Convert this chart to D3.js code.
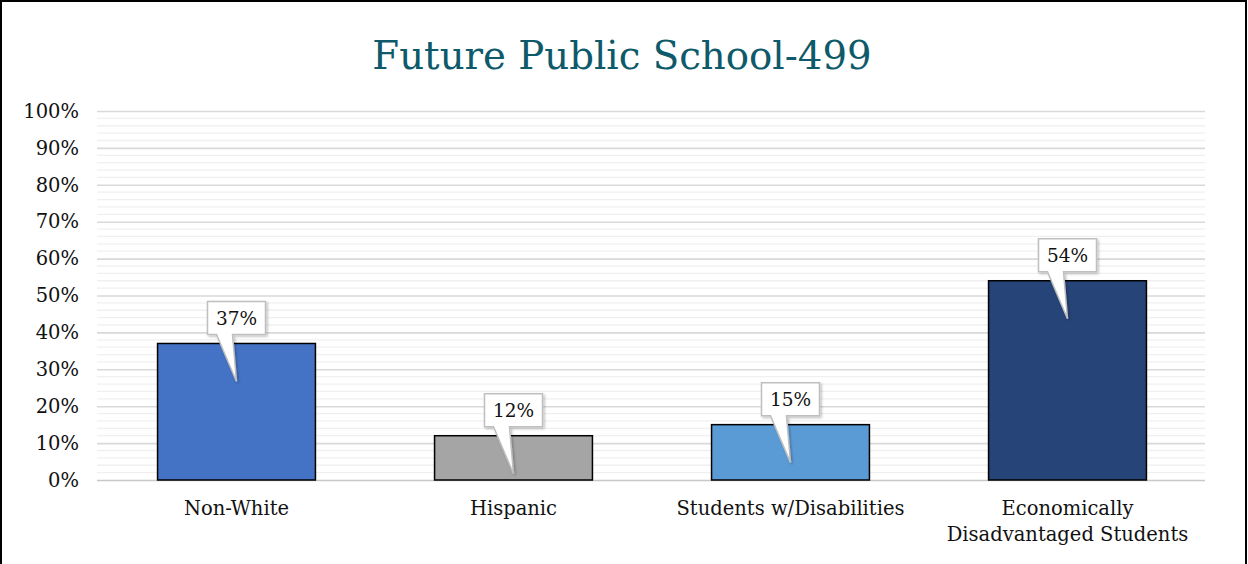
<!DOCTYPE html>
<html>
<head>
<meta charset="utf-8">
<script src="https://cdn.jsdelivr.net/npm/d3@7"></script>
<style>
  body { margin: 0; background: #fff; }
  svg text { font-family: "DejaVu Serif", "Liberation Serif", serif; }
</style>
</head>
<body>
<div id="chart"></div>
<script>
const categories = ['Non-White', 'Hispanic', 'Students w/Disabilities', 'Economically\nDisadvantaged Students'];
const values = [37, 12, 15, 54];
const yTicks = [0, 10, 20, 30, 40, 50, 60, 70, 80, 90, 100];
const minorTicks = d3.range(0, 101, 2);
const barColors = ['#4472C4', '#A5A5A5', '#5B9BD5', '#264478'];

const width = 1248, height = 564;
const margin = { top: 111, right: 43, bottom: 84, left: 97 };

const svg = d3.select('#chart')
  .append('svg')
  .attr('width', width)
  .attr('height', height);

svg.append('rect')
  .attr('x', 1).attr('y', 1)
  .attr('width', width - 3).attr('height', height + 10)
  .attr('fill', '#fff')
  .attr('stroke', '#000')
  .attr('stroke-width', 2);

svg.append('text')
  .attr('x', 622).attr('y', 69)
  .attr('text-anchor', 'middle')
  .attr('fill', '#0E5A6A')
  .attr('font-size', 38.7)
  .text('Future Public School-499');

const x = d3.scaleBand()
  .domain(categories)
  .range([margin.left, width - margin.right])
  .paddingInner(0.43)
  .paddingOuter(0.215);

const y = d3.scaleLinear()
  .domain([0, 100])
  .range([height - margin.bottom, margin.top]);

// minor grid
svg.append('g')
  .selectAll('line')
  .data(minorTicks.filter(d => d % 10 !== 0))
  .join('line')
  .attr('x1', margin.left).attr('x2', width - margin.right)
  .attr('y1', d => y(d)).attr('y2', d => y(d))
  .attr('stroke', '#f0f0f0')
  .attr('stroke-width', 1.3);

// major grid + y axis
const yAxis = svg.append('g')
  .attr('transform', `translate(${margin.left},0)`)
  .call(d3.axisLeft(y).tickValues(yTicks).tickFormat(d => d + '%')
    .tickSize(-(width - margin.left - margin.right)).tickPadding(18));
yAxis.select('.domain').remove();
yAxis.selectAll('.tick line')
  .attr('stroke', d => d === 0 ? '#c8c8c8' : '#d9d9d9')
  .attr('stroke-width', 1.6);
yAxis.selectAll('.tick text')
  .attr('font-size', 19.5)
  .attr('fill', '#111');

// bars
svg.append('g')
  .selectAll('rect')
  .data(values)
  .join('rect')
  .attr('x', (d, i) => x(categories[i]) + 1)
  .attr('y', d => y(d))
  .attr('width', x.bandwidth())
  .attr('height', d => y(0) - y(d))
  .attr('fill', (d, i) => barColors[i])
  .attr('stroke', '#000')
  .attr('stroke-width', 1.5);

// x labels
const xl = svg.append('g')
  .selectAll('text')
  .data(categories)
  .join('text')
  .attr('x', d => x(d) + x.bandwidth() / 2 + 1)
  .attr('y', 515)
  .attr('text-anchor', 'middle')
  .attr('font-size', 19.5)
  .attr('fill', '#111');
xl.each(function (d) {
  d3.select(this).selectAll('tspan')
    .data(d.split('\n'))
    .join('tspan')
    .attr('x', x(d) + x.bandwidth() / 2 + 1)
    .attr('dy', (t, i) => i === 0 ? 0 : 26)
    .text(t => t);
});

// callouts
const defs = svg.append('defs');
defs.append('filter').attr('id', 'sh')
  .append('feDropShadow')
  .attr('dx', 1.5).attr('dy', 1.5).attr('stdDeviation', 1)
  .attr('flood-color', '#000').attr('flood-opacity', 0.25);

const callouts = svg.append('g')
  .selectAll('g')
  .data(values)
  .join('g')
  .attr('transform', (d, i) => `translate(${x(categories[i]) + x.bandwidth() / 2 + 1},${y(d)})`);

const bw = 58, bh = 33, gap = 9;
callouts.append('path')
  .attr('d', () => {
    const top = -gap - bh, bot = -gap, l = -bw / 2, r = bw / 2;
    return `M${l},${top}H${r}V${bot}H-4L0,38L-20,${bot}H${l}Z`;
  })
  .attr('fill', '#fff')
  .attr('stroke', '#bfbfbf')
  .attr('stroke-width', 1.5)
  .attr('filter', 'url(#sh)');

callouts.append('text')
  .attr('x', 0)
  .attr('y', -gap - bh / 2 + 7)
  .attr('text-anchor', 'middle')
  .attr('font-size', 18.5)
  .attr('fill', '#111')
  .text(d => d + '%');
</script>
</body>
</html>
